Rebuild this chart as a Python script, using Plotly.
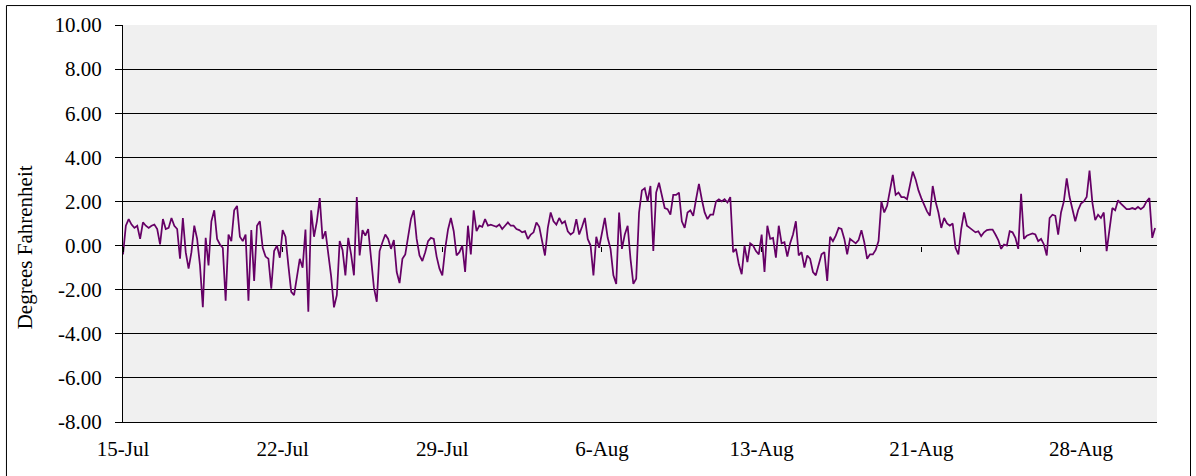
import plotly.graph_objects as go

# Hourly deviation readings, kept every 3 hours (degrees Fahrenheit)
sample_hours = 3
deviation_f = [
    -0.4, 0.9, 1.2, 0.95, 0.8, 0.9, 0.3, 1.05, 0.9, 0.8,
    0.9, 0.95, 0.75, 0.05, 1.2, 0.75, 0.8, 1.25, 0.9, 0.75,
    -0.6, 1.25, -0.3, -1.05, -0.3, 0.9, 0.3, -0.9, -2.8, 0.35,
    -0.9, 1.1, 1.6, 0.3, 0.05, -0.1, -2.5, 0.5, 0.2, 1.6,
    1.8,
    0.4, 0.2, 0.5, -2.5, 0.7, -1.6, 0.9, 1.1, -0.1, -0.5,
    -0.6, -1.95, -0.25, 0.0, -0.55, 0.7, 0.4, -0.9, -2.1, -2.25,
    -1.5, -0.6, -1.0, 0.73, -3.0, 1.6, 0.4, 1.1, 2.15, 0.3,
    0.65, -0.3, -1.4, -2.8, -2.25, 0.2, -0.2, -1.35, 0.35, -0.4,
    -1.35, 2.2,
    -0.45, 0.7, 0.45, 0.75, -0.6, -1.9, -2.55, -0.25, 0.15, 0.5,
    0.3, -0.15, 0.25, -1.2, -1.7, -0.6, -0.4, 0.4, 1.2, 1.6,
    0.3, -0.45, -0.7, -0.3, 0.2, 0.35, 0.3, -0.5, -1.05, -1.35,
    -0.15, 0.73, 1.25, 0.65, -0.45, -0.3, 0.0, -1.2, 0.9, -0.4,
    1.6, 0.65,
    0.9, 0.85, 1.2, 0.9, 0.95, 0.9, 0.85, 0.95, 0.75, 0.9,
    1.05, 0.9, 0.9, 0.75, 0.7, 0.6, 0.65, 0.3, 0.5, 0.6,
    1.05, 0.85, 0.1, -0.45, 0.8, 1.5, 1.1, 0.95, 1.25, 1.0,
    1.1, 0.65, 0.5, 0.6, 1.2, 0.5, 0.85, 1.25, 0.3, 0.0,
    -1.35, 0.4,
    -0.1, 0.6, 1.25, 0.35, -0.15, -1.35, -1.74, 1.5, -0.15, 0.5,
    0.9, -0.6, -1.74, -1.5, 1.5, 2.5, 2.6, 2.0, 2.7, -0.25,
    2.4, 2.85, 2.2, 1.7, 1.65, 1.4, 2.3, 2.3, 2.4, 1.1,
    0.8, 1.5, 1.6, 1.35, 2.1, 2.8, 2.1, 1.5, 1.2, 1.4,
    1.4, 2.0,
    2.1, 2.0, 2.1, 1.95, 2.2, -0.3, -0.15, -0.85, -1.3, 0.0,
    -0.75, 0.1, 0.0, -0.25, -0.4, 0.5, -1.2, 0.9, 0.3, 0.35,
    -0.55, 0.9, 0.1, 0.15, -0.5, 0.1, 0.5, 1.1, -0.45, -0.3,
    -1.0, -0.45, -0.6, -1.2, -1.35, -0.9, -0.4, -0.3, -1.6, 0.4,
    0.2, 0.45,
    0.8, 0.75, 0.3, -0.4, 0.3, 0.2, 0.1, 0.25, 0.7, 0.15,
    -0.6, -0.4, -0.4, -0.2, 0.2, 2.0, 1.5, 1.8, 2.6, 3.2,
    2.3, 2.4, 2.2, 2.2, 2.1, 2.75, 3.35, 3.0, 2.5, 2.15,
    1.85, 1.55, 1.35, 2.7, 2.0, 1.5, 0.8, 1.25, 1.0, 0.9,
    1.0, -0.1,
    -0.4, 0.75, 1.5, 0.9, 0.8, 0.7, 0.6, 0.65, 0.43, 0.6,
    0.7, 0.72, 0.72, 0.5, 0.25, -0.15, 0.05, 0.0, 0.65, 0.6,
    0.35, -0.15, 2.35, 0.3, 0.45, 0.5, 0.55, 0.5, 0.2, 0.3,
    0.05, -0.45, 1.25, 1.4, 1.35, 0.5, 1.5, 2.0, 3.05, 2.2,
    1.65, 1.1,
    1.6, 1.9, 2.0, 2.2, 3.4, 1.95, 1.15, 1.4, 1.25, 1.5,
    -0.25, 0.7, 1.7, 1.6, 2.05, 1.9, 1.75, 1.65, 1.65, 1.7,
    1.65, 1.75, 1.65, 1.75, 2.0, 2.15, 0.35, 0.8,
]

# Category labels, one every 168 hours
tick_labels = ["15-Jul", "22-Jul", "29-Jul", "6-Aug", "13-Aug", "21-Aug", "28-Aug"]
hours_per_label = 168
axis_hours = 1088

# Value axis: -8 to 10 in steps of 2, written with a plain hyphen
y_ticks = [-8, -6, -4, -2, 0, 2, 4, 6, 8, 10]
y_tick_text = [f"{v:.2f}" for v in y_ticks]

hours = [i * sample_hours for i in range(len(deviation_f))]
tick_hours = [i * hours_per_label for i in range(len(tick_labels))]

serif = "Liberation Serif"

fig = go.Figure()
fig.add_trace(go.Scatter(
    x=hours, y=deviation_f, mode="lines",
    line=dict(color="#660066", width=1.75),
    showlegend=False, hoverinfo="skip",
))
# companion axis that crosses at zero and carries the category tick marks
fig.add_trace(go.Scatter(x=[], y=[], xaxis="x2", yaxis="y", showlegend=False))

fig.update_layout(
    width=1196, height=476,
    margin=dict(l=123, r=39, t=25, b=54),
    paper_bgcolor="white",
    plot_bgcolor="#f0f0f0",
    font=dict(family=serif, size=21, color="black"),
    xaxis=dict(
        range=[0, axis_hours], tickvals=tick_hours, ticktext=tick_labels,
        showgrid=False, zeroline=False,
        showline=True, linecolor="black", linewidth=1,
        ticks="outside", ticklen=8, tickcolor="rgba(0,0,0,0)",
    ),
    xaxis2=dict(
        range=[0, axis_hours], overlaying="x", anchor="free", position=8 / 18,
        tickvals=tick_hours, showticklabels=False,
        ticks="outside", ticklen=5, tickcolor="black", tickwidth=1,
        showgrid=False, zeroline=False, showline=False,
    ),
    yaxis=dict(
        range=[-8, 10], tickvals=y_ticks, ticktext=y_tick_text,
        showgrid=True, gridcolor="black", gridwidth=1, zeroline=False,
        showline=True, linecolor="black", linewidth=1,
        ticks="outside", ticklen=7, tickcolor="black",
        ticklabelstandoff=9,
    ),
    shapes=[dict(
        type="rect", xref="paper", yref="paper",
        x0=-0.1127, x1=1.0324, y0=-0.2, y1=1.049,
        line=dict(color="black", width=1), fillcolor="rgba(0,0,0,0)",
        layer="below",
    )],
    annotations=[dict(
        text="Degrees Fahrenheit", textangle=-90,
        xref="paper", yref="paper", x=-0.0948, y=0.44,
        xanchor="center", yanchor="middle", showarrow=False,
        font=dict(family=serif, size=21, color="black"),
    )],
)

fig.write_html("out.html")
